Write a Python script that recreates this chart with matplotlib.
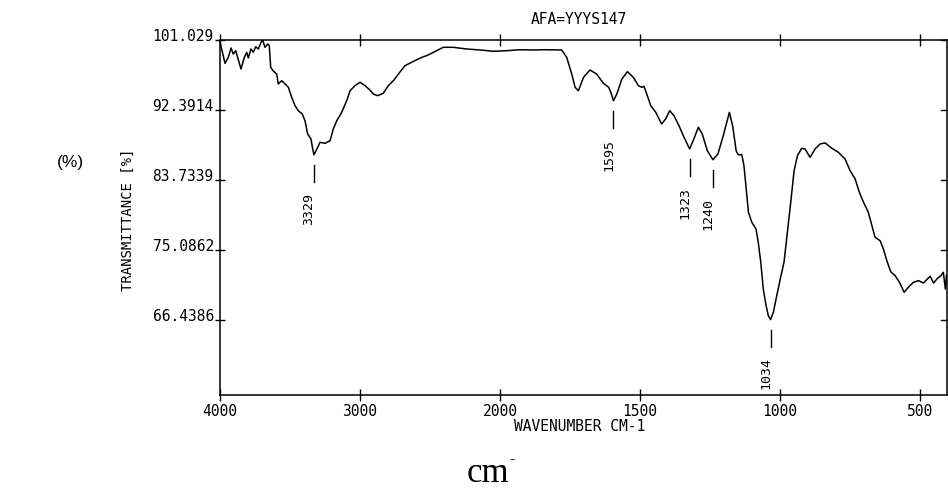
import matplotlib
matplotlib.use("Agg")
import matplotlib.pyplot as plt
import matplotlib.transforms as mtransforms
import numpy as np

# IR spectrum, wavenumber (cm-1) vs transmittance (%)
wavenumber = [
    4000, 3998, 3964, 3941, 3921, 3905, 3888, 3874, 3850, 3826, 3809, 3798,
    3779, 3762, 3745, 3726, 3707, 3695, 3679, 3659, 3648, 3638, 3621, 3595,
    3584, 3559, 3536, 3512, 3488, 3464, 3441, 3412, 3393, 3374, 3350, 3338,
    3329, 3302, 3286, 3250, 3214, 3191, 3166, 3131, 3095, 3071, 3036, 3000,
    2964, 2929, 2905, 2874, 2834, 2798, 2762, 2726, 2679, 2631, 2584, 2548,
    2524, 2476, 2429, 2405, 2334, 2238, 2143, 2048, 1976, 1929, 1881, 1833,
    1780, 1762, 1744, 1732, 1720, 1702, 1679, 1655, 1631, 1612, 1603, 1595,
    1583, 1565, 1545, 1524, 1506, 1494, 1486, 1474, 1462, 1444, 1423, 1409,
    1394, 1379, 1361, 1343, 1323, 1308, 1292, 1278, 1260, 1240, 1222, 1203,
    1181, 1169, 1157, 1149, 1137, 1129, 1121, 1113, 1101, 1086, 1078, 1069,
    1060, 1050, 1042, 1034, 1024, 1012, 998, 986, 974, 962, 950, 938,
    923, 911, 893, 875, 857, 839, 815, 792, 768, 750, 732, 717,
    702, 685, 672, 661, 643, 631, 619, 605, 589, 574, 557, 542,
    524, 506, 488, 474, 464, 452, 438, 426, 417, 410, 406,
]
transmittance = [
    100.9, 100.6, 98.11, 98.85, 100.00, 99.26, 99.67, 98.85, 97.41, 98.85, 99.47, 98.77,
    99.88, 99.47, 100.16, 99.88, 100.71, 100.99, 100.09, 100.50, 100.29, 97.62, 97.20, 96.79,
    95.56, 95.96, 95.56, 95.15, 93.91, 92.88, 92.26, 91.85, 91.02, 89.38, 88.76, 87.53,
    86.82, 87.74, 88.35, 88.23, 88.55, 90.00, 91.02, 92.06, 93.49, 94.73, 95.35, 95.77,
    95.35, 94.81, 94.32, 94.11, 94.41, 95.35, 95.96, 96.79, 97.82, 98.24, 98.65, 98.93,
    99.05, 99.47, 99.88, 100.09, 100.09, 99.88, 99.76, 99.60, 99.67, 99.79, 99.76, 99.79,
    99.76, 98.85, 96.79, 95.15, 94.73, 96.38, 97.29, 96.79, 95.64, 95.15, 94.40, 93.49,
    94.32, 96.17, 97.08, 96.38, 95.35, 95.15, 95.27, 94.11, 92.88, 92.06, 90.61, 91.23,
    92.26, 91.64, 90.40, 88.97, 87.53, 88.76, 90.21, 89.38, 87.32, 86.20, 86.91, 89.17,
    92.06, 90.30, 87.32, 86.79, 86.85, 85.46, 82.59, 79.71, 78.47, 77.64, 76.00, 73.53,
    70.23, 68.17, 66.93, 66.44, 67.35, 69.40, 71.68, 73.53, 77.24, 80.94, 84.85, 86.70,
    87.61, 87.53, 86.50, 87.53, 88.15, 88.27, 87.61, 87.12, 86.29, 84.85, 83.82, 82.18,
    80.94, 79.71, 78.05, 76.62, 76.20, 75.17, 73.73, 72.37, 71.87, 71.06, 69.82, 70.44,
    71.06, 71.26, 70.97, 71.47, 71.80, 70.97, 71.55, 71.87, 72.29, 70.23, 71.90,
]

peak_labels = [3329, 1595, 1323, 1240, 1034]

y_ticks = [101.029, 92.3914, 83.7339, 75.0862, 66.4386]
y_tick_labels = ["101.029", "92.3914", "83.7339", "75.0862", "66.4386"]
x_ticks = [4000, 3000, 2000, 1500, 1000, 500]
x_tick_labels = ["4000", "3000", "2000", "1500", "1000", "500"]

MONO = "DejaVu Sans Mono"


def fwd(x):
    # double the scale below 2000 cm-1, like the instrument chart paper
    x = np.asarray(x, dtype=float)
    return np.where(x >= 2000, x / 1000 + 2, x / 500)


def inv(u):
    u = np.asarray(u, dtype=float)
    return np.where(u >= 4, (u - 2) * 1000, u * 500)


fig = plt.figure(figsize=(9.48, 4.89), dpi=100)
ax = fig.add_axes([220 / 948, 1 - 395.7 / 489, 727 / 948, 355 / 489])

ax.set_xscale("function", functions=(fwd, inv))
ax.plot(wavenumber, transmittance, color="black", lw=1.1)
ax.set_xlim(4000, 404)
ax.set_ylim(57.17, 101.029)

for side in ["left", "right", "top", "bottom"]:
    ax.spines[side].set_linewidth(1.1)

ax.set_xticks(x_ticks)
ax.set_xticklabels(x_tick_labels, fontfamily=MONO, fontsize=10.5)
ax.set_yticks(y_ticks)
ax.set_yticklabels(y_tick_labels, fontfamily=MONO, fontsize=10.5)
ax.xaxis.set_minor_locator(plt.NullLocator())
ax.tick_params(axis="x", which="both", direction="inout", length=8, width=1.0,
               top=True, bottom=True, labeltop=False, pad=2)
ax.tick_params(axis="y", direction="inout", length=7, width=1.0, pad=1,
               left=True, right=False)
for lab in ax.get_yticklabels():
    lab.set_verticalalignment("baseline")

# inward ticks on the right-hand frame
for t in y_ticks:
    ax.plot([1, 0.992], [t, t], color="black", lw=1.0,
            transform=mtransforms.blended_transform_factory(ax.transAxes, ax.transData),
            clip_on=False)

# peak markers: short bar under each minimum, then the rotated wavenumber
wn_rev = np.array(wavenumber[::-1], dtype=float)
tr_rev = np.array(transmittance[::-1], dtype=float)
px = 0.12354  # % per pixel
for wn in peak_labels:
    t_min = np.interp(wn, wn_rev, tr_rev)
    ax.plot([wn, wn], [t_min - 10 * px, t_min - 27 * px], color="black", lw=1.0)
    ax.annotate(str(wn), xy=(wn, t_min), xytext=(-3.5, -26.5),
                textcoords="offset points", rotation=90, ha="center", va="top",
                fontfamily=MONO, fontsize=9.5, annotation_clip=False)

fig.text(579 / 948, 1 - 19 / 489, "AFA=YYYS147", fontfamily=MONO, fontsize=10.5,
         ha="center", va="center")
fig.text(580 / 948, 1 - 427 / 489, "WAVENUMBER CM-1", fontfamily=MONO, fontsize=10.5,
         ha="center", va="center")
fig.text(128 / 948, 1 - 220 / 489, "TRANSMITTANCE [%]", fontfamily=MONO, fontsize=10,
         rotation=90, ha="center", va="center")
fig.text(70 / 948, 1 - 163 / 489, "(%)", fontfamily="Liberation Sans", fontsize=12.5,
         ha="center", va="center")
fig.text(467 / 948, 1 - 482 / 489, "cm", fontfamily="Liberation Serif", fontsize=25,
         ha="left", va="baseline")
fig.text(512 / 948, 1 - 459 / 489, "-", fontfamily="Liberation Serif", fontsize=12,
         ha="center", va="center")

fig.savefig("out.png", dpi=100)
